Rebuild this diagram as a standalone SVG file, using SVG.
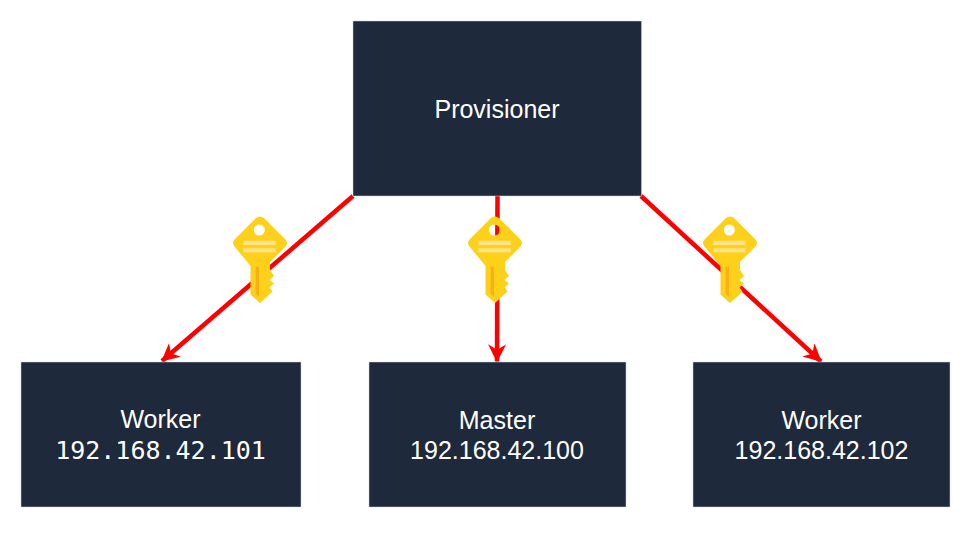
<svg xmlns="http://www.w3.org/2000/svg" width="976" height="533" viewBox="0 0 976 533">
<style>
.box{fill:#1e293b;stroke:#cbd5e1;stroke-width:.5}
text{fill:#fff;font-size:25px;font-family:"Liberation Sans",Arial,sans-serif;text-anchor:middle}
.mono{font-family:"DejaVu Sans Mono",monospace}
.edge{fill:none;stroke:#f00;stroke-width:4.500;marker-end:url(#arrow)}
</style>
<defs>
<marker id="arrow" viewBox="0 0 10 10" refX="9.500" refY="5" markerWidth="4" markerHeight="4" orient="auto"><path d="M0 0L10 5L0 10L3 5Z" fill="#f00"/></marker>
<g id="key">
<path fill="#fdd01a" fill-rule="evenodd" d="M-4-11Q0-14 4-11L25.500 10.500Q28.500 14 25.500 17.500L10 33L10 41L14 47L9.500 51L14 54.500L9.500 58.500L12.500 62.500L0 74L-9.500 65.500L-9.500 37L-25.500 17.500Q-28.500 14-25.500 10.500ZM-.7 6.500A5.500 5.500 0 1 0 -.7 -4.500A5.500 5.500 0 1 0 -.7 6.500Z"/>
<rect x="-16.700" y="11.700" width="32.400" height="4.300" fill="#fee28a"/>
<rect x="-16.700" y="19.300" width="32.400" height="4" fill="#fee28a"/>
<path d="M-4.300 37.700H-1V68L-4.300 65Z" fill="#f9b017"/>
</g>
</defs>
<g id="connectors">
<path class="edge" d="M353 196L162 361"/>
<path class="edge" d="M497.500 196L497 361.500"/>
<path class="edge" d="M641 196L821 361.500"/>
</g>
<g id="provisioner"><rect class="box" x="353" y="21" width="288.500" height="175"/><text x="497" y="118">Provisioner</text></g>
<g id="worker-101"><rect class="box" x="21" y="362" width="280" height="145"/><text x="160.500" y="428">Worker</text><text class="mono" x="160.500" y="459">192.168.42.101</text></g>
<g id="master"><rect class="box" x="369" y="362" width="257" height="145"/><text x="497" y="429">Master</text><text x="497" y="459">192.168.42.100</text></g>
<g id="worker-102"><rect class="box" x="693" y="362" width="257" height="145"/><text x="821.500" y="429">Worker</text><text x="821.500" y="459">192.168.42.102</text></g>
<use id="key-1" href="#key" x="260" y="229"/>
<use id="key-2" href="#key" x="495" y="229"/>
<use id="key-3" href="#key" x="730" y="229"/>
</svg>
